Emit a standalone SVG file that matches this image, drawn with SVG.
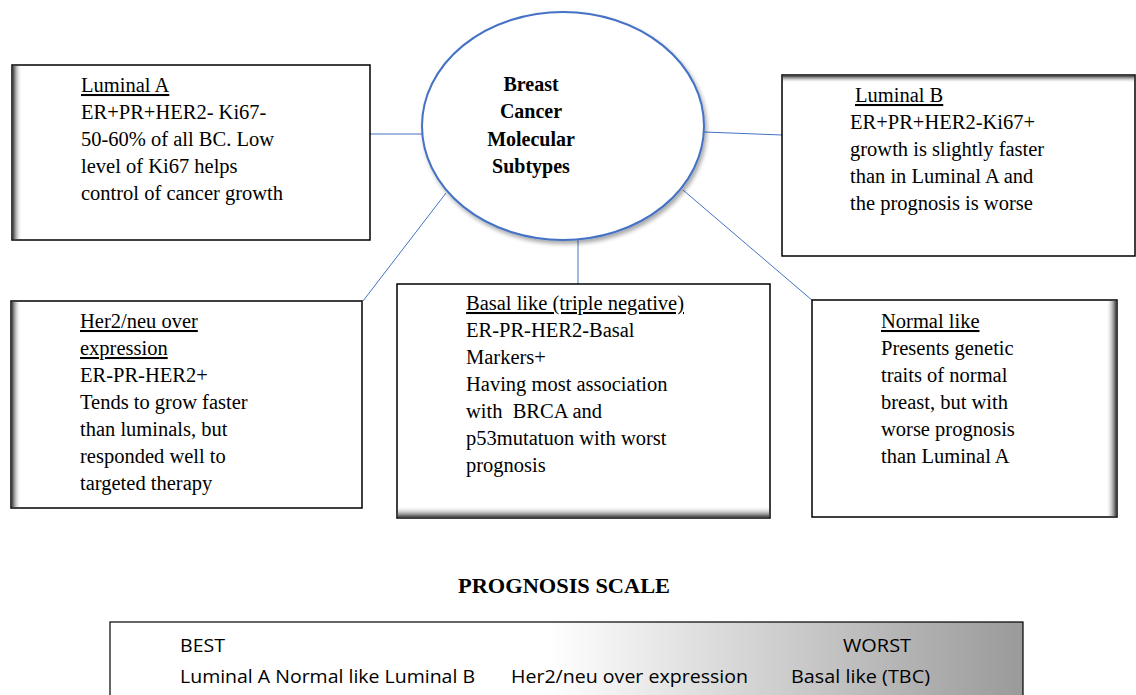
<svg xmlns="http://www.w3.org/2000/svg" width="1136" height="695" viewBox="0 0 1136 695">
<style>
.box{fill:#fff;stroke:#000;stroke-width:1.5}
.t{font-family:"Liberation Serif","Times New Roman",serif;font-size:20.5px;fill:#000}
.u{text-decoration:underline}
.b{font-weight:bold;font-size:20px}
.s{font-family:"Open Sans","Liberation Sans",sans-serif;font-size:18px;fill:#000}
.c{stroke:#4472C4;stroke-width:1;fill:none}
</style>
<defs>
<linearGradient id="gL" x1="0" y1="0" x2="1" y2="0"><stop offset="0" stop-color="#444"/><stop offset="1" stop-color="#fff" stop-opacity="0"/></linearGradient>
<linearGradient id="gR" x1="1" y1="0" x2="0" y2="0"><stop offset="0" stop-color="#444"/><stop offset="1" stop-color="#fff" stop-opacity="0"/></linearGradient>
<linearGradient id="gT" x1="0" y1="0" x2="0" y2="1"><stop offset="0" stop-color="#444"/><stop offset="1" stop-color="#fff" stop-opacity="0"/></linearGradient>
<linearGradient id="gB" x1="0" y1="1" x2="0" y2="0"><stop offset="0" stop-color="#444"/><stop offset="1" stop-color="#fff" stop-opacity="0"/></linearGradient>
<linearGradient id="scale" x1="0" y1="0" x2="1" y2="0"><stop offset="0" stop-color="#fff"/><stop offset="0.48" stop-color="#fff"/><stop offset="1" stop-color="#9a9a9a"/></linearGradient>
<filter id="sh" x="-10%" y="-10%" width="130%" height="130%"><feGaussianBlur in="SourceAlpha" stdDeviation="2"/><feOffset dx="2" dy="3"/><feComponentTransfer><feFuncA type="linear" slope="0.35"/></feComponentTransfer><feMerge><feMergeNode/><feMergeNode in="SourceGraphic"/></feMerge></filter>
</defs>
<rect width="1136" height="695" fill="#fff"/>
<g id="connectors">
<line class="c" x1="370" y1="134" x2="422" y2="134"/>
<line class="c" x1="704" y1="132" x2="782" y2="135"/>
<line class="c" x1="446" y1="193" x2="363" y2="301"/>
<line class="c" x1="578" y1="240" x2="578" y2="284"/>
<line class="c" x1="683" y1="190" x2="813" y2="301"/>
</g>
<g id="center">
<ellipse cx="563" cy="126" rx="141" ry="114" fill="#fff" stroke="#4472C4" stroke-width="2" filter="url(#sh)"/>
<text class="t b" text-anchor="middle"><tspan x="531" y="91">Breast</tspan><tspan x="531" y="118">Cancer</tspan><tspan x="531" y="146">Molecular</tspan><tspan x="531" y="173">Subtypes</tspan></text>
</g>
<g id="luminalA">
<rect class="box" x="12" y="65" width="358" height="175"/>
<rect x="13" y="66" width="9" height="173" fill="url(#gL)"/>
<text class="t"><tspan class="u" x="81" y="92">Luminal A</tspan><tspan x="81" y="119">ER+PR+HER2- Ki67-</tspan><tspan x="81" y="146">50-60% of all BC. Low</tspan><tspan x="81" y="173">level of Ki67 helps</tspan><tspan x="81" y="200">control of cancer growth</tspan></text>
</g>
<g id="luminalB">
<rect class="box" x="782" y="75" width="353" height="181"/>
<rect x="783" y="76" width="351" height="7" fill="url(#gT)"/>
<text class="t"><tspan class="u" x="855" y="102">Luminal B</tspan><tspan x="850" y="129">ER+PR+HER2-Ki67+</tspan><tspan x="850" y="156">growth is slightly faster</tspan><tspan x="850" y="183">than in Luminal A and</tspan><tspan x="850" y="210">the prognosis is worse</tspan></text>
</g>
<g id="her2">
<rect class="box" x="11" y="301" width="351" height="207"/>
<rect x="12" y="302" width="9" height="205" fill="url(#gL)"/>
<text class="t"><tspan class="u" x="80" y="328">Her2/neu over</tspan><tspan class="u" x="80" y="355">expression</tspan><tspan x="80" y="382">ER-PR-HER2+</tspan><tspan x="80" y="409">Tends to grow faster</tspan><tspan x="80" y="436">than luminals, but</tspan><tspan x="80" y="463">responded well to</tspan><tspan x="80" y="490">targeted therapy</tspan></text>
</g>
<g id="basal">
<rect class="box" x="397" y="284" width="373" height="234"/>
<rect x="398" y="506" width="371" height="11" fill="url(#gB)"/>
<text class="t"><tspan class="u" x="466" y="310">Basal like (triple negative)</tspan><tspan x="466" y="337">ER-PR-HER2-Basal</tspan><tspan x="466" y="364">Markers+</tspan><tspan x="466" y="391">Having most association</tspan><tspan x="466" y="418">with&#160; BRCA and</tspan><tspan x="466" y="445">p53mutatuon with worst</tspan><tspan x="466" y="472">prognosis</tspan></text>
</g>
<g id="normal">
<rect class="box" x="812" y="300" width="305" height="217"/>
<rect x="1106" y="301" width="10" height="215" fill="url(#gR)"/>
<text class="t"><tspan class="u" x="881" y="328">Normal like</tspan><tspan x="881" y="355">Presents genetic</tspan><tspan x="881" y="382">traits of normal</tspan><tspan x="881" y="409">breast, but with</tspan><tspan x="881" y="436">worse prognosis</tspan><tspan x="881" y="463">than Luminal A</tspan></text>
</g>
<g id="scaleTitle">
<text class="t b" x="458" y="593" textLength="212" lengthAdjust="spacingAndGlyphs">PROGNOSIS SCALE</text>
</g>
<g id="prognosisScale">
<rect x="110" y="622" width="913" height="80" fill="url(#scale)" stroke="#000" stroke-width="1.2"/>
<text class="s" x="180" y="652" textLength="45" lengthAdjust="spacingAndGlyphs">BEST</text>
<text class="s" x="843" y="652" textLength="68" lengthAdjust="spacingAndGlyphs">WORST</text>
<text class="s" x="180" y="683" textLength="295" lengthAdjust="spacingAndGlyphs">Luminal A Normal like Luminal B</text>
<text class="s" x="511" y="683" textLength="237" lengthAdjust="spacingAndGlyphs">Her2/neu over expression</text>
<text class="s" x="791" y="683" textLength="139" lengthAdjust="spacingAndGlyphs">Basal like (TBC)</text>
</g>
</svg>
